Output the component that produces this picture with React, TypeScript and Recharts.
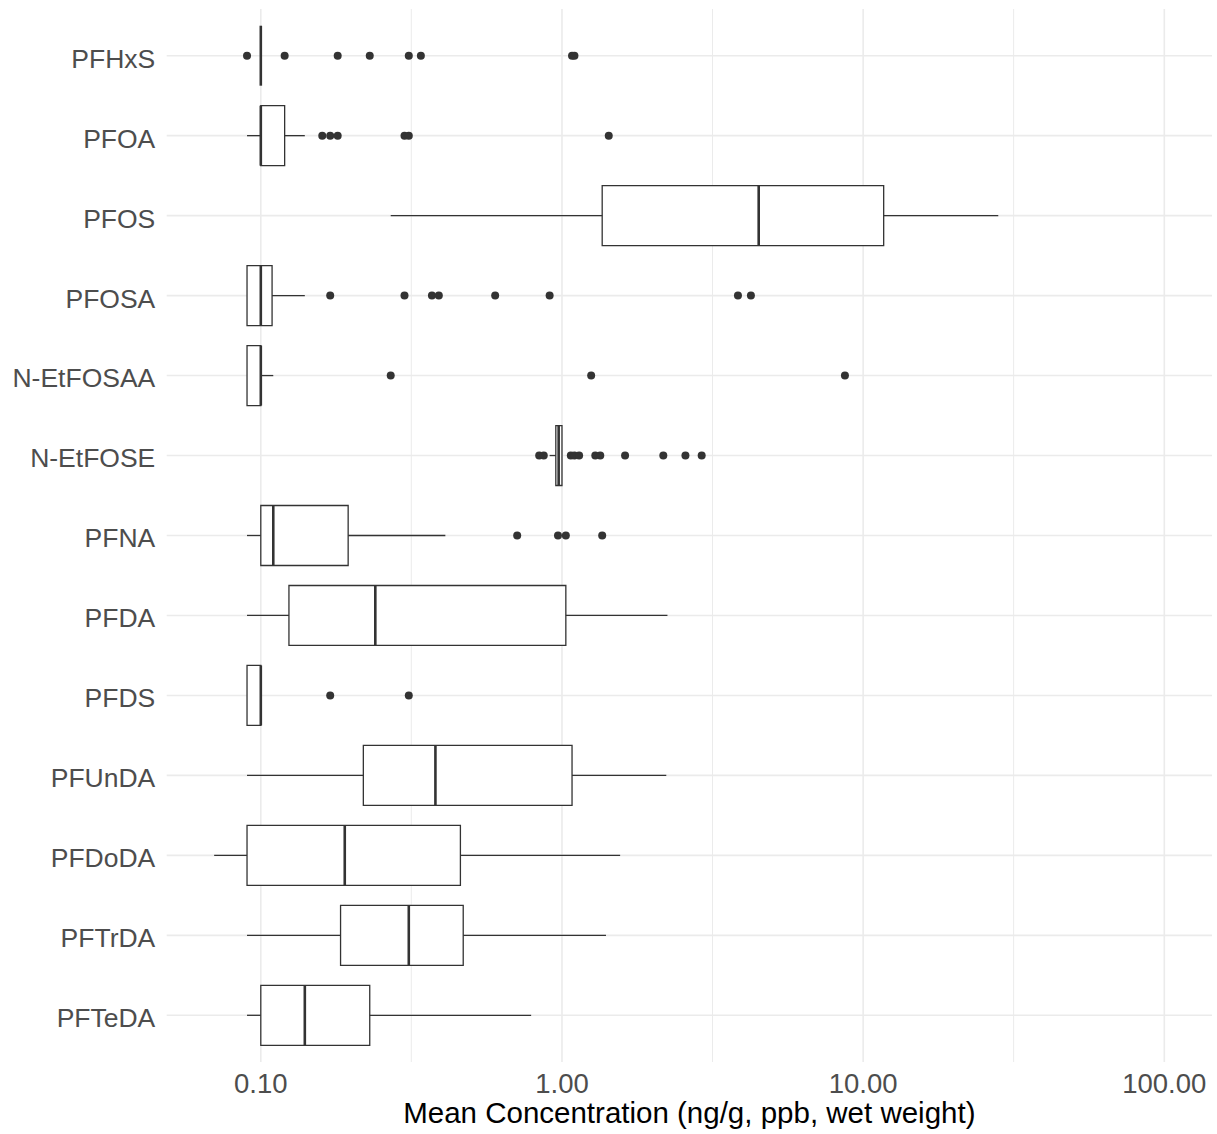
import React from 'react';
import { ScatterChart, Scatter, XAxis, YAxis, CartesianGrid, ReferenceArea, ReferenceLine } from 'recharts';

const compounds = [
  'PFHxS', 'PFOA', 'PFOS', 'PFOSA', 'N-EtFOSAA', 'N-EtFOSE', 'PFNA',
  'PFDA', 'PFDS', 'PFUnDA', 'PFDoDA', 'PFTrDA', 'PFTeDA',
];

// box stats (ng/g)
const whiskerLow = [0.1, 0.09, 0.27, 0.09, 0.09, 0.91, 0.09, 0.09, 0.09, 0.09, 0.07, 0.09, 0.09];
const q1 = [0.1, 0.1, 1.36, 0.09, 0.09, 0.954, 0.1, 0.124, 0.09, 0.219, 0.09, 0.184, 0.1];
const median = [0.1, 0.1, 4.5, 0.1, 0.1, 0.975, 0.11, 0.24, 0.1, 0.38, 0.19, 0.31, 0.14];
const q3 = [0.1, 0.12, 11.7, 0.109, 0.1, 1.0, 0.195, 1.03, 0.1, 1.08, 0.46, 0.47, 0.23];
const whiskerHigh = [0.1, 0.14, 28.1, 0.14, 0.11, 1.0, 0.41, 2.24, 0.1, 2.22, 1.56, 1.4, 0.79];

const outliers = [
  [0.09, 0.12, 0.18, 0.23, 0.31, 0.34, 1.08, 1.1],
  [0.16, 0.17, 0.18, 0.3, 0.31, 1.43],
  [],
  [0.17, 0.3, 0.37, 0.39, 0.6, 0.91, 3.84, 4.24],
  [0.27, 1.25, 8.7],
  [0.84, 0.87, 1.07, 1.1, 1.14, 1.29, 1.34, 1.62, 2.17, 2.57, 2.91],
  [0.71, 0.97, 1.03, 1.36],
  [],
  [0.17, 0.31],
  [],
  [],
  [],
  [],
];

const xTicks = [0.1, 1, 10, 100];
const xMinor = [0.316, 3.16, 31.6];

const rows = compounds.map((_, i) => i + 1);
const outlierPoints = outliers.flatMap((vals, i) => vals.map((v) => ({ x: v, y: i + 1 })));

const FONT = '"Liberation Sans", Arial, sans-serif';
const INK = '#333333';
const HALF = 0.375;

const Dot = (props: any) => <circle cx={props.cx} cy={props.cy} r={4} fill={INK} />;

export default function App() {
  return (
    <div style={{ position: 'absolute', left: 0, top: 0, width: 1217, height: 1134, background: '#fff' }}>
      <ScatterChart width={1217} height={1134} margin={{ top: 9, right: 5, bottom: 0, left: 0 }}>
        <CartesianGrid stroke="#EBEBEB" strokeWidth={1.6} verticalValues={xTicks} horizontalValues={rows} />
        <CartesianGrid stroke="#EBEBEB" strokeWidth={1} horizontal={false} verticalValues={xMinor} />
        <XAxis
          type="number"
          dataKey="x"
          scale="log"
          domain={[0.0487, 144]}
          allowDataOverflow
          ticks={xTicks}
          interval={0}
          tickFormatter={(v: number) => v.toFixed(2)}
          axisLine={false}
          tickLine={false}
          tickSize={0}
          tickMargin={11}
          height={72}
          tick={{ fill: '#4D4D4D', fontSize: 27.5, fontFamily: FONT }}
          label={{
            value: 'Mean Concentration (ng/g, ppb, wet weight)',
            position: 'insideBottom',
            offset: 10.7,
            fill: '#000',
            fontSize: 29.5,
            fontFamily: FONT,
          }}
        />
        <YAxis
          type="number"
          dataKey="y"
          domain={[0.416, 13.584]}
          reversed
          ticks={rows}
          interval={0}
          tickFormatter={(v: number) => compounds[v - 1]}
          axisLine={false}
          tickLine={false}
          tickSize={0}
          tickMargin={11.4}
          width={166.7}
          tick={{ fill: '#4D4D4D', fontSize: 26.5, fontFamily: FONT, dy: 2.5 }}
        />
        {compounds.map((c, i) => (
          <ReferenceArea
            key={'box-' + c}
            x1={q1[i]}
            x2={q3[i]}
            y1={i + 1 - HALF}
            y2={i + 1 + HALF}
            fill="#fff"
            fillOpacity={1}
            stroke={INK}
            strokeWidth={1.3}
            ifOverflow="visible"
          />
        ))}
        {compounds.map((c, i) =>
          whiskerLow[i] < q1[i] ? (
            <ReferenceLine
              key={'wl-' + c}
              segment={[{ x: whiskerLow[i], y: i + 1 }, { x: q1[i], y: i + 1 }]}
              stroke={INK}
              strokeWidth={1.3}
            />
          ) : null
        )}
        {compounds.map((c, i) =>
          whiskerHigh[i] > q3[i] ? (
            <ReferenceLine
              key={'wh-' + c}
              segment={[{ x: q3[i], y: i + 1 }, { x: whiskerHigh[i], y: i + 1 }]}
              stroke={INK}
              strokeWidth={1.3}
            />
          ) : null
        )}
        {compounds.map((c, i) => (
          <ReferenceLine
            key={'med-' + c}
            segment={[{ x: median[i], y: i + 1 - HALF }, { x: median[i], y: i + 1 + HALF }]}
            stroke={INK}
            strokeWidth={2.6}
          />
        ))}
        <Scatter data={outlierPoints} shape={Dot} isAnimationActive={false} />
      </ScatterChart>
    </div>
  );
}
